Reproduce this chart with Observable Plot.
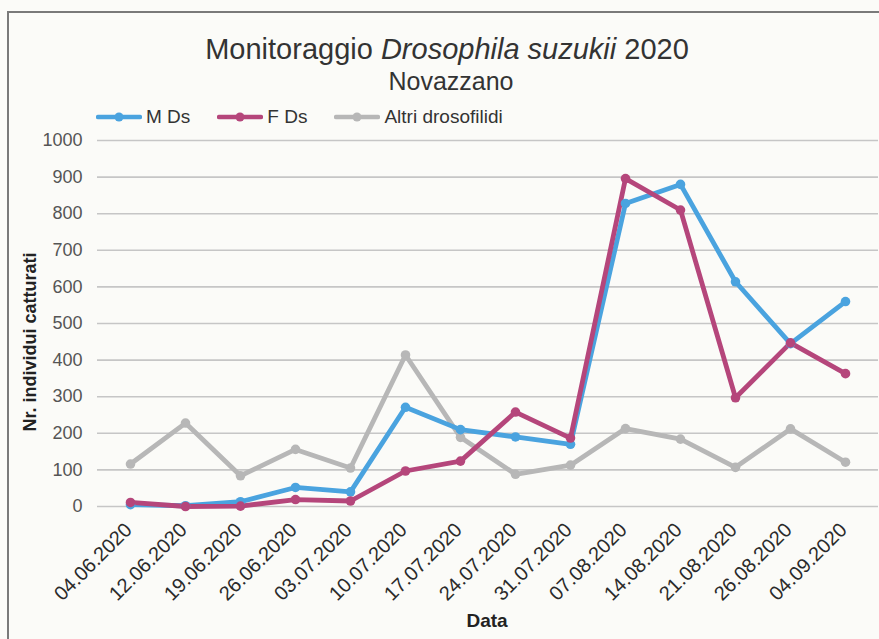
<!DOCTYPE html>
<html>
<head>
<meta charset="utf-8">
<script src="https://cdn.jsdelivr.net/npm/d3@7"></script>
<script src="https://cdn.jsdelivr.net/npm/@observablehq/plot@0.6"></script>
<style>
  html, body { margin: 0; padding: 0; background: #fbfbf8; }
  #wrap { position: relative; width: 879px; height: 639px; overflow: hidden; background: #fbfbf8;
          font-family: "Liberation Sans", Arial, sans-serif; }
  #frame { position: absolute; left: 7px; top: 11px; right: -10px; bottom: -10px;
           border-left: 2px solid #7a7a7a; border-top: 2px solid #7a7a7a; }
  #title { position: absolute; left: 0; width: 894px; top: 33px; text-align: center;
           font-size: 29px; color: #333; }
  #subtitle { position: absolute; left: 0; width: 902px; top: 67px; text-align: center;
           font-size: 25px; color: #333; }
  #legend { position: absolute; top: 106px; left: 96px; display: flex; align-items: center;
            font-size: 19px; color: #333; }
  #legend .item { display: flex; align-items: center; margin-right: 27px; }
  #legend svg { margin-right: 4px; }
  #ylab { position: absolute; left: 30px; top: 342px; transform: translate(-50%, -50%) rotate(-90deg);
          white-space: nowrap; font-weight: bold; font-size: 18px; color: #222; }
  #xlab { position: absolute; left: 487px; top: 610px; transform: translateX(-50%);
          font-weight: bold; font-size: 19px; color: #222; }
  #chart { position: absolute; left: 0; top: 0; }
</style>
</head>
<body>
<div id="wrap">
  <div id="frame"></div>
  <div id="chart"></div>
  <div id="title">Monitoraggio <i>Drosophila suzukii</i> 2020</div>
  <div id="subtitle">Novazzano</div>
  <div id="legend"></div>
  <div id="ylab">Nr. individui catturati</div>
  <div id="xlab">Data</div>
</div>
<script>
const dates = ["04.06.2020","12.06.2020","19.06.2020","26.06.2020","03.07.2020","10.07.2020","17.07.2020",
               "24.07.2020","31.07.2020","07.08.2020","14.08.2020","21.08.2020","26.08.2020","04.09.2020"];
const mDs   = [5, 2, 13, 52, 40, 271, 210, 190, 170, 828, 880, 614, 445, 560];
const fDs   = [11, 0, 1, 19, 15, 97, 124, 258, 187, 896, 810, 297, 447, 363];
const altri = [116, 228, 84, 156, 105, 414, 189, 88, 113, 213, 184, 107, 212, 121];
const seriesNames = ["M Ds", "F Ds", "Altri drosofilidi"];
const seriesColors = ["#4aa3df", "#b5467b", "#b7b7b7"];
const yTicks = [0, 100, 200, 300, 400, 500, 600, 700, 800, 900, 1000];

// draw order: grey, blue, pink (pink on top)
const data = [
  ...dates.map((d, i) => ({date: d, serie: "Altri drosofilidi", v: altri[i]})),
  ...dates.map((d, i) => ({date: d, serie: "M Ds", v: mDs[i]})),
  ...dates.map((d, i) => ({date: d, serie: "F Ds", v: fDs[i]}))
];

const chart = Plot.plot({
  width: 879,
  height: 639,
  marginTop: 140,
  marginBottom: 133,
  marginLeft: 97,
  marginRight: 1,
  style: {background: "transparent", fontFamily: "'Liberation Sans', Arial, sans-serif"},
  x: {type: "point", domain: dates, padding: 0.5, axis: null},
  y: {domain: [0, 1000], axis: null},
  color: {domain: seriesNames, range: seriesColors},
  marks: [
    Plot.ruleY(yTicks, {stroke: "#c6c6c6", strokeWidth: 1.6}),
    Plot.axisY(yTicks, {tickSize: 0, tickPadding: 15, fontSize: 18, fill: "#555", label: null,
                        tickFormat: d => String(d)}),
    Plot.text(dates, {x: d => d, frameAnchor: "bottom", rotate: -45, textAnchor: "end",
                      lineAnchor: "middle", dx: -2, dy: 20, fontSize: 20, fill: "#2a2a2a"}),
    Plot.line(data, {x: "date", y: "v", z: "serie", stroke: "serie", strokeWidth: 4.8,
                     strokeLinejoin: "round", strokeLinecap: "round"}),
    Plot.dot(data, {x: "date", y: "v", fill: "serie", r: 4.8})
  ]
});
document.getElementById("chart").appendChild(chart);

// legend
const legend = document.getElementById("legend");
seriesNames.forEach((name, i) => {
  const item = document.createElement("div");
  item.className = "item";
  item.innerHTML = `<svg width="46" height="12"><line x1="2" y1="6" x2="44" y2="6" stroke="${seriesColors[i]}" stroke-width="4.5" stroke-linecap="round"/><circle cx="23" cy="6" r="4.5" fill="${seriesColors[i]}"/></svg><span>${name}</span>`;
  legend.appendChild(item);
});
</script>
</body>
</html>
